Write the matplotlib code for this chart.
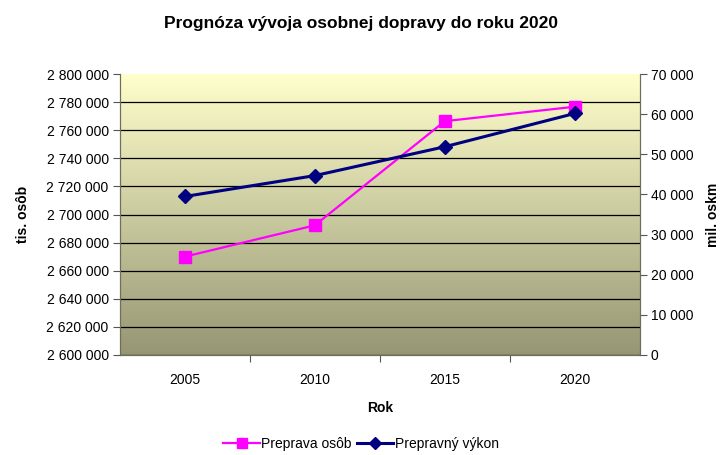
import matplotlib.pyplot as plt
import numpy as np
from matplotlib.colors import LinearSegmentedColormap
from matplotlib.lines import Line2D

plt.rcParams['font.family'] = ['Liberation Sans', 'DejaVu Sans']

# data
years = ['2005', '2010', '2015', '2020']
preprava_osob = [2670000, 2692300, 2766500, 2776800]   # tis. osôb (left axis)
prepravny_vykon = [39500, 44700, 51900, 60200]          # mil. oskm (right axis)

left_ticks = list(range(2600000, 2800001, 20000))
right_ticks = list(range(0, 70001, 10000))


def fmt(v):
    return f'{v:,}'.replace(',', ' ')


fig = plt.figure(figsize=(7.22, 4.55), dpi=100)
ax = fig.add_axes([0.166, 0.22, 0.720, 0.617])
ax2 = ax.twinx()

# gradient background of plot area
cmap = LinearSegmentedColormap.from_list('bg', ['#ffffcc', '#969674'])
grad = np.linspace(0, 1, 256).reshape(-1, 1)
ax.imshow(grad, aspect='auto', cmap=cmap, extent=[0, 1, 0, 1],
          transform=ax.transAxes, zorder=0)

x = np.arange(len(years))
ax.set_xlim(-0.5, len(years) - 0.5)
ax.set_ylim(left_ticks[0], left_ticks[-1])
ax.set_yticks(left_ticks)
ax.set_yticklabels([fmt(v) for v in left_ticks])
ax.yaxis.grid(True, color='black', linewidth=0.9, zorder=1)
ax.get_ygridlines()[-1].set_visible(False)
ax.set_axisbelow(False)

ax2.set_ylim(right_ticks[0], right_ticks[-1])
ax2.set_yticks(right_ticks)
ax2.set_yticklabels([fmt(v) for v in right_ticks])

# category ticks between groups, labels at centres
ax.set_xticks(x[:-1] + 0.5)
ax.set_xticklabels([])
ax.set_xticks(x, minor=True)
ax.set_xticklabels(years, minor=True)
ax.tick_params(axis='x', which='minor', length=0, pad=13)
ax.tick_params(axis='x', which='major', length=5, color='#555555')

for a in (ax, ax2):
    a.tick_params(axis='y', length=5, labelsize=10, color='#555555', pad=3)
    a.tick_params(axis='x', which='both', labelsize=10)
    a.spines['top'].set_visible(False)
    for s in ('left', 'right', 'bottom'):
        a.spines[s].set_color('#6e6e5a')

ax.plot(x, preprava_osob, color='#ff00ff', linewidth=1.6, marker='s',
        markersize=8.5, zorder=3)
ax2.plot(x, prepravny_vykon, color='#000080', linewidth=2.2, marker='D',
         markersize=7.5, zorder=3)

ax.set_ylabel('tis. osôb', fontsize=10, fontweight='bold', labelpad=12)
ax2.set_ylabel('mil. oskm', fontsize=10, fontweight='bold', labelpad=9)
ax.set_xlabel('Rok', fontsize=10, fontweight='bold', labelpad=10)
fig.suptitle('Prognóza vývoja osobnej dopravy do roku 2020', fontsize=12.5,
             fontweight='bold', y=0.965)

handles = [
    Line2D([], [], color='#ff00ff', linewidth=1.6, marker='s', markersize=7),
    Line2D([], [], color='#000080', linewidth=2.2, marker='D', markersize=6),
]
fig.legend(handles, ['Preprava osôb', 'Prepravný výkon'], loc='lower center',
           bbox_to_anchor=(0.5, -0.018), ncol=2, frameon=False, fontsize=10,
           handlelength=2.6, handletextpad=0.1, columnspacing=0.4)

fig.savefig('out.png', dpi=100)
